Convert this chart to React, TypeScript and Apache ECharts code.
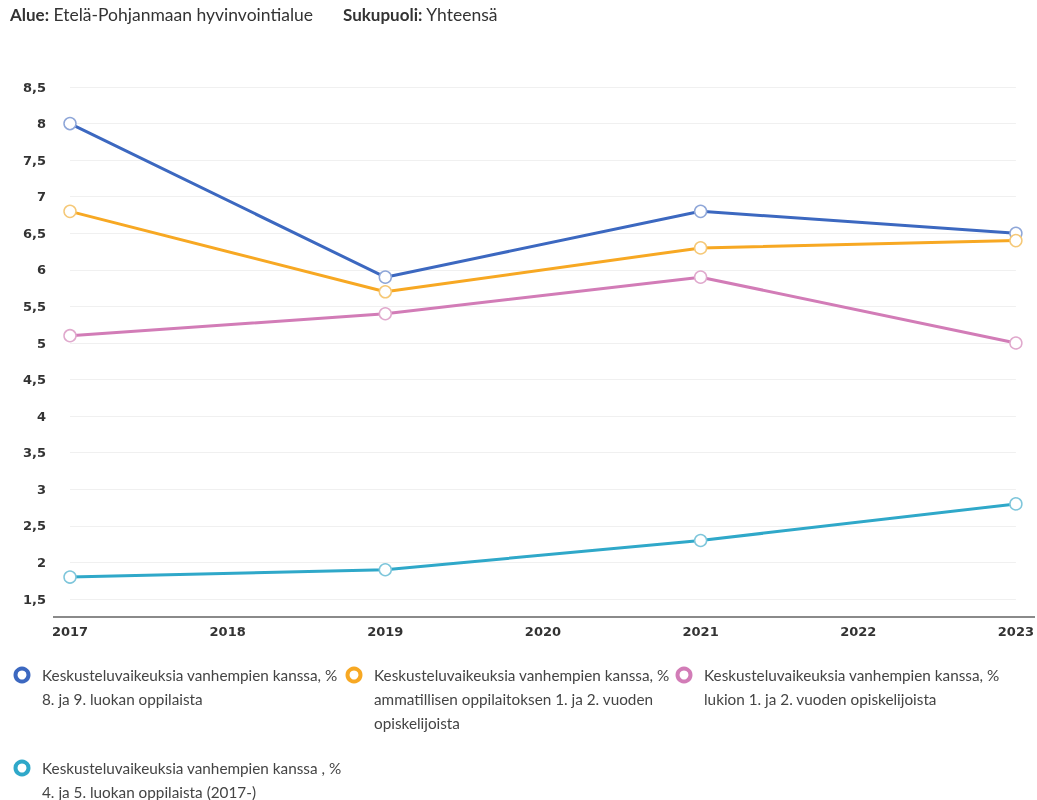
import React, { useEffect, useRef } from "react";
import * as echarts from "echarts";

const years = ["2017", "2018", "2019", "2020", "2021", "2022", "2023"];
const yLabels = [1.5, 2, 2.5, 3, 3.5, 4, 4.5, 5, 5.5, 6, 6.5, 7, 7.5, 8, 8.5];

const seriesNames = [
  "Keskusteluvaikeuksia vanhempien kanssa, %\n8. ja 9. luokan oppilaista",
  "Keskusteluvaikeuksia vanhempien kanssa, %\nammatillisen oppilaitoksen 1. ja 2. vuoden\nopiskelijoista",
  "Keskusteluvaikeuksia vanhempien kanssa, %\nlukion 1. ja 2. vuoden opiskelijoista",
  "Keskusteluvaikeuksia vanhempien kanssa , %\n4. ja 5. luokan oppilaista (2017-)",
];
const colors = ["#3c68c0", "#f7a823", "#d27cb7", "#2fa8c9"];
const markerBorders = ["#8ea6d8", "#f5c877", "#e0a9cd", "#7ec6db"];

const blueValues = [8.0, null, 5.9, null, 6.8, null, 6.5];
const orangeValues = [6.8, null, 5.7, null, 6.3, null, 6.4];
const pinkValues = [5.1, null, 5.4, null, 5.9, null, 5.0];
const tealValues = [1.8, null, 1.9, null, 2.3, null, 2.8];
const allValues = [blueValues, orangeValues, pinkValues, tealValues];

const FONT = "Lato, 'Open Sans', sans-serif";
const AXIS_FONT = "'DejaVu Sans', Verdana, sans-serif";

export default function App() {
  const ref = useRef<HTMLDivElement>(null);
  useEffect(() => {
    const chart = echarts.init(ref.current!, null, { renderer: "svg" });
    const legendPos = [
      { x: 22, y: 675 },
      { x: 354, y: 675 },
      { x: 684, y: 675 },
      { x: 22, y: 768 },
    ];
    const graphic: any[] = [
      {
        type: "text",
        left: 10,
        top: 5,
        style: {
          text: "{b|Alue:} Etelä-Pohjanmaan hyvinvointialue",
          font: `17.5px ${FONT}`,
          fill: "#333",
          rich: { b: { fontWeight: "bold", fontSize: 17, fontFamily: FONT, fill: "#333" } },
        },
      },
      {
        type: "text",
        left: 343,
        top: 5,
        style: {
          text: "{b|Sukupuoli:} Yhteensä",
          font: `17.5px ${FONT}`,
          fill: "#333",
          rich: { b: { fontWeight: "bold", fontSize: 17, fontFamily: FONT, fill: "#333" } },
        },
      },
      {
        type: "line",
        shape: { x1: 53, y1: 617, x2: 1035, y2: 617 },
        style: { stroke: "#8a8a8a", lineWidth: 2 },
      },
    ];
    seriesNames.forEach((name, i) => {
      const p = legendPos[i];
      graphic.push({
        type: "circle",
        shape: { cx: p.x, cy: p.y, r: 6.5 },
        style: { fill: "#fff", stroke: colors[i], lineWidth: 4 },
      });
      graphic.push({
        type: "text",
        x: p.x + 20,
        y: p.y - 12,
        style: {
          text: name,
          font: `15.3px ${FONT}`,
          fill: "#444",
          lineHeight: 24,
          verticalAlign: "top",
        },
      });
    });

    chart.setOption({
      animation: false,
      grid: { left: 70, right: 20, top: 87, height: 512 },
      xAxis: {
        type: "category",
        data: years,
        boundaryGap: false,
        offset: 18,
        axisLine: { show: false },
        axisTick: { show: false },
        axisLabel: {
          color: "#333",
          fontWeight: "bold",
          fontSize: 13,
          fontFamily: AXIS_FONT,
          margin: 8,
          interval: 0,
        },
      },
      yAxis: {
        type: "value",
        min: yLabels[0],
        max: yLabels[yLabels.length - 1],
        interval: 0.5,
        axisLine: { show: false },
        axisTick: { show: false },
        splitLine: { lineStyle: { color: "#f0f0f0", width: 1 } },
        axisLabel: {
          color: "#333",
          fontWeight: "bold",
          fontSize: 13,
          fontFamily: AXIS_FONT,
          margin: 24,
          formatter: (v: number) => String(v).replace(".", ","),
        },
      },
      graphic,
      series: allValues.map((vals, i) => ({
        type: "line",
        name: seriesNames[i],
        data: vals,
        connectNulls: true,
        symbol: "circle",
        symbolSize: 12,
        lineStyle: { color: colors[i], width: 3 },
        itemStyle: { color: "#fff", borderColor: markerBorders[i], borderWidth: 1.5 },
        z: 3,
      })),
    });
    return () => chart.dispose();
  }, []);
  return (
    <div
      ref={ref}
      style={{ position: "fixed", left: 0, top: 0, width: 1037, height: 800 }}
    />
  );
}
